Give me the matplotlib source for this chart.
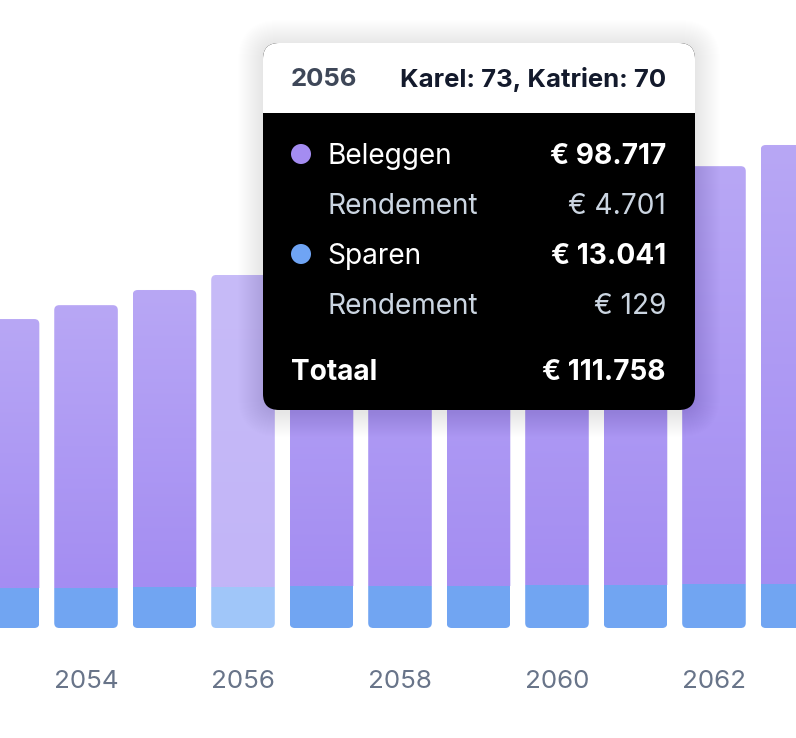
import numpy as np
import matplotlib.pyplot as plt
from matplotlib.patches import FancyBboxPatch, Rectangle, Circle
from matplotlib.colors import to_rgb

plt.rcParams['font.family'] = ['Inter', 'DejaVu Sans']

# Data (euro)
years = [2053, 2054, 2055, 2056, 2057, 2058, 2059, 2060, 2061, 2062, 2063]
beleggen = [85230, 89540, 94120, 98717, 103600, 108700, 114100, 119800, 126000, 132400, 139000]
sparen = [12570, 12660, 12880, 13041, 13200, 13300, 13400, 13500, 13600, 13800, 13900]
tick_years = [2054, 2056, 2058, 2060, 2062]
hover_year = 2056

# tooltip content
tt_year = "2056"
tt_ages = "Karel: 73, Katrien: 70"
tt_rows = [
    ("Beleggen", "€ 98.717", "main", "#a48cf1"),
    ("Rendement", "€ 4.701", "sub", None),
    ("Sparen", "€ 13.041", "main", "#6fa4f4"),
    ("Rendement", "€ 129", "sub", None),
]
tt_total = ("Totaal", "€ 111.758")

W, H = 796, 738
fig = plt.figure(figsize=(W / 100, H / 100), dpi=100)
fig.patch.set_facecolor('white')

ax = fig.add_axes([0, 110 / H, 1, 628 / H])
xlim = (2052.904, 2063.045)
ylim = (0, 198800)
width = 0.81

# rounding in pixels converted to data units
px_x = (xlim[1] - xlim[0]) / W
px_y = (ylim[1] - ylim[0]) / 628
radius = 5 * px_x
aspect = px_y / px_x


def gradient(c_top, c_bot, n=64):
    t = np.linspace(0, 1, n)[:, None]
    a, b = np.array(to_rgb(c_top)), np.array(to_rgb(c_bot))
    return (a * (1 - t) + b * t)[:, None, :]


for yr, b, s in zip(years, beleggen, sparen):
    hot = yr == hover_year
    x0 = yr - width / 2
    total = b + s
    clip = FancyBboxPatch((x0, 0), width, total,
                          boxstyle=f"round,pad=0,rounding_size={radius}",
                          mutation_aspect=aspect, facecolor='none', edgecolor='none')
    ax.add_patch(clip)
    if hot:
        grad = gradient('#c7bbf8', '#c2b5f7')
        blue = '#a0c6f9'
    else:
        grad = gradient('#b8a7f5', '#a48df2')
        blue = '#71a5f2'
    im = ax.imshow(grad, extent=[x0, x0 + width, s, total], origin='upper',
                   aspect='auto', interpolation='bilinear', zorder=2)
    im.set_clip_path(clip)
    r = Rectangle((x0, 0), width, s, facecolor=blue, edgecolor='none', zorder=3)
    ax.add_patch(r)
    r.set_clip_path(clip)

ax.set_xlim(*xlim)
ax.set_ylim(*ylim)
ax.set_xticks(tick_years)
ax.set_xticklabels([str(t) for t in tick_years])
ax.tick_params(axis='x', length=0, pad=30.5, labelsize=18.7, labelcolor='#687489')
ax.set_yticks([])
for sp in ax.spines.values():
    sp.set_visible(False)

# tooltip overlay in pixel coordinates
ov = fig.add_axes([0, 0, 1, 1], zorder=10)
ov.set_xlim(0, W)
ov.set_ylim(H, 0)
ov.axis('off')
ov.patch.set_alpha(0)

bx, by, bw, bh = 263, 43, 432, 367
for i in range(1, 26):
    sh = FancyBboxPatch((bx - i, by - i + 2), bw + 2 * i, bh + 2 * i,
                        boxstyle=f"round,pad=0,rounding_size={16 + i}",
                        facecolor='black', edgecolor='none', alpha=0.0035)
    ov.add_patch(sh)

box = FancyBboxPatch((bx, by), bw, bh, boxstyle="round,pad=0,rounding_size=16",
                     facecolor='black', edgecolor='none')
ov.add_patch(box)
head = Rectangle((bx, by), bw, 70, facecolor='white', edgecolor='none')
ov.add_patch(head)
head.set_clip_path(box)

ov.text(291, 79, tt_year, fontsize=18.5, fontweight='bold', color='#3e4758',
        ha='left', va='center')
ov.text(666, 79, tt_ages, fontsize=18.5, fontweight='bold', color='#131a2c',
        ha='right', va='center')

y = 157
for label, val, kind, dot in tt_rows:
    if kind == 'main':
        ov.add_patch(Circle((301, y - 3), 10, facecolor=dot, edgecolor='none'))
        ov.text(327, y, label, fontsize=20.2, color='white', ha='left', va='center')
        ov.text(666, y, val, fontsize=20.2, fontweight='bold', color='white',
                ha='right', va='center')
    else:
        ov.text(327, y, label, fontsize=20.2, color='#cbd5e1', ha='left', va='center')
        ov.text(666, y, val, fontsize=20.2, color='#cbd5e1', ha='right', va='center')
    y += 50

ov.text(291, 373, tt_total[0], fontsize=20.2, fontweight='bold', color='white',
        ha='left', va='center')
ov.text(666, 373, tt_total[1], fontsize=20.2, fontweight='bold', color='white',
        ha='right', va='center')

fig.savefig('out.png', dpi=100)
